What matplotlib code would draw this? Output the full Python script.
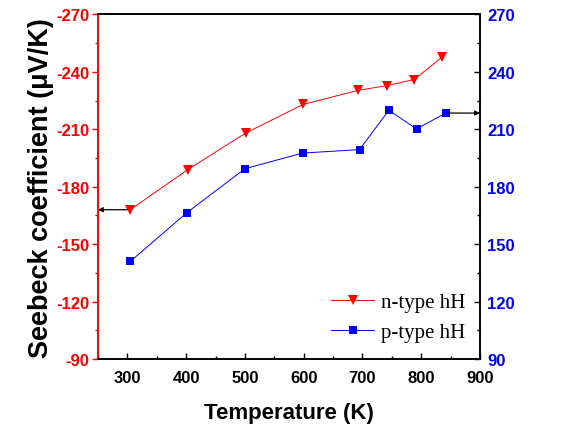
# Seebeck coefficient vs temperature, n-type and p-type half-Heusler
import matplotlib
matplotlib.use("Agg")
import matplotlib.pyplot as plt
from matplotlib.ticker import MultipleLocator

# ==========================================
# DATA
# ==========================================
n_temp = [305, 403, 501, 599, 693, 741, 788, 835]
n_seebeck = [-168, -189, -208, -223, -230.4, -232.8, -236, -247.6]

p_temp = [305, 401, 500, 598, 695, 745, 792, 842]
p_seebeck = [141, 166.4, 189.4, 197.6, 199.4, 220, 210.2, 218.5]

x_ticks = [300, 400, 500, 600, 700, 800, 900]
left_ticks = [-90, -120, -150, -180, -210, -240, -270]
right_ticks = [90, 120, 150, 180, 210, 240, 270]

# ==========================================
# FIGURE
# ==========================================
plt.rcParams["font.family"] = ["Liberation Sans", "DejaVu Sans"]
plt.rcParams["font.weight"] = "bold"
plt.rcParams["axes.unicode_minus"] = False

fig = plt.figure(figsize=(5.64, 4.35), dpi=100)
ax = fig.add_axes([0.1738, 0.1724, 0.6772, 0.792])
ax2 = ax.twinx()

ln_n, = ax.plot(n_temp, n_seebeck, color="red", lw=0.7, marker="v",
                ms=7.5, mec="red", mew=0)
ln_p, = ax2.plot(p_temp, p_seebeck, color="blue", lw=0.7, marker="s",
                 ms=5.5, mec="blue", mew=0)

ax.set_xlim(250, 900)
ax.set_ylim(-90, -270)
ax2.set_ylim(90, 270)

ax.set_xticks(x_ticks)
ax.xaxis.set_minor_locator(MultipleLocator(50))
ax.set_yticks(left_ticks)
ax.yaxis.set_minor_locator(MultipleLocator(15))
ax2.set_yticks(right_ticks)
ax2.yaxis.set_minor_locator(MultipleLocator(15))

# arrows pointing to the matching axis
ax.annotate("", xy=(250, n_seebeck[0]), xytext=(n_temp[0] - 5, n_seebeck[0]),
            arrowprops=dict(arrowstyle="-|>", color="black", lw=0.9,
                            mutation_scale=7, shrinkA=0, shrinkB=0))
ax2.annotate("", xy=(900, p_seebeck[-1]), xytext=(p_temp[-1] + 4, p_seebeck[-1]),
             arrowprops=dict(arrowstyle="-|>", color="black", lw=0.9,
                             mutation_scale=7, shrinkA=0, shrinkB=0))

# ticks and spines
ax.tick_params(axis="x", which="major", direction="in", length=4, width=1,
               labelsize=12, pad=8, top=False)
ax.tick_params(axis="x", which="minor", direction="in", length=2.5, width=1, top=False)
ax.tick_params(axis="y", which="major", direction="out", length=4, width=1,
               colors="red", labelsize=12, pad=2)
ax.tick_params(axis="y", which="minor", direction="out", length=2.5, width=1, colors="red")
ax2.tick_params(axis="y", which="major", direction="in", length=4, width=1,
                color="black", labelcolor="blue", labelsize=12, pad=5)
ax2.tick_params(axis="y", which="minor", direction="in", length=2.5, width=1, color="black")

for a in (ax, ax2):
    for s in a.spines.values():
        s.set_linewidth(1.2)
        s.set_color("black")
    a.spines["left"].set_color("red")

for lab in ax.get_xticklabels() + ax.get_yticklabels() + ax2.get_yticklabels():
    lab.set_fontweight("bold")

ax.set_xlabel("Temperature (K)", fontsize=16, fontweight="bold", labelpad=12)
ax.set_ylabel("Seebeck coefficient (\u03bcV/K)", fontsize=19.5,
              fontweight="bold", labelpad=2)

ax2.legend([ln_n, ln_p], ["n-type hH", "p-type hH"], loc="lower right",
           bbox_to_anchor=(1.01, -0.005), frameon=False,
           prop={"family": "Liberation Serif", "size": 15, "weight": "normal"},
           handlelength=2.1, handletextpad=0.3, labelspacing=0.5)

plt.savefig("out.png", dpi=100)
